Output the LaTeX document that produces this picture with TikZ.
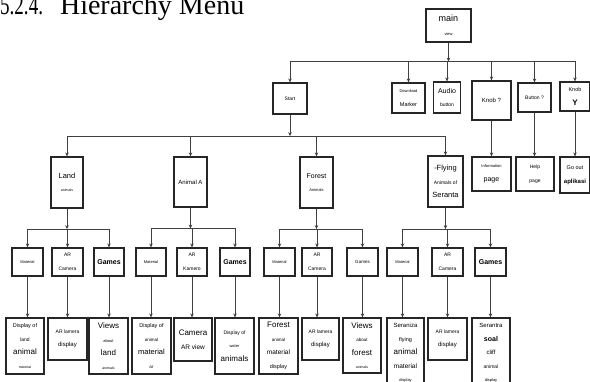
\documentclass[tikz,border=0pt]{standalone}
\usepackage{graphicx}
\usepackage{fontspec}
\setmainfont{Liberation Sans}
\newfontfamily\titlefont{Liberation Serif}
\usetikzlibrary{arrows.meta}
\newcommand\fs[1]{\fontsize{#1}{13.5}\selectfont}

\begin{document}
\begin{tikzpicture}[x=1pt,y=-1pt,
		box/.style={draw=black!85,line width=1.2pt,fill=white,inner sep=1pt,align=center,font=\fs{5}},
		wh/.style 2 args={minimum width=#1pt,minimum height=#2pt},
		link/.style={draw=black!75,line width=1pt,-{Stealth[length=4pt,width=3.5pt]}}]
	\useasboundingbox (0,0) rectangle (590,381);

	\node[anchor=base west,inner sep=0pt,font=\titlefont\fontsize{28}{28}\selectfont] (title) at (0,14) {\scalebox{0.68}[1]{5.2.4.}\hspace{17pt}Hierarchy Menu};

	% top level
	\node[box,wh={45}{33}] (main) at (448.5,25.5) {\fs{9}main\\\fs{4}view};
	\node[box,wh={34}{31}] (start) at (290,98.5) {\fs{5}Start};
	\node[box,wh={33}{30}] (dl) at (408.5,98) {\fs{4}Download\\\fs{5.5}Marker};
	\node[box,wh={27}{31}] (audio) at (447,97.5) {\fs{7}Audio\\\fs{5}button};
	\node[box,wh={39}{39}] (knobq) at (491.5,100.5) {\fs{6}Knob ?};
	\node[box,wh={33}{29}] (buttonq) at (534.5,97.5) {\fs{5}Button ?};
	\node[box,wh={30}{29}] (knoby) at (575,96.5) {\fs{5.5}Knob\\\fs{8}\bfseries Y};

	\node[box,wh={39}{34}] (info) at (491.5,174) {\fs{4}Information\\\fs{7}page};
	\node[box,wh={38}{34}] (help) at (535,174) {\fs{5}Help\\page};
	\node[box,wh={30}{36}] (goout) at (575,175) {\fs{5.5}Go out\\\fs{6}\bfseries aplikasi};

	% areas
	\node[box,wh={32}{51}] (land) at (67,182.5) {\fs{7.5}Land\\\fs{3.5}animals};
	\node[box,wh={33}{50}] (animala) at (190.5,182) {\fs{6}Animal A};
	\node[box,wh={33}{51}] (forest) at (316.5,182.5) {\fs{7}Forest\\\fs{4}Animals};
	\node[box,wh={35}{51}] (flying) at (445.5,181.5) {\fs{7.5}-Flying\\\fs{5}Animals of\\\fs{7.5}Seranta};

	% menus
	\node[box,wh={31}{28}] (l1) at (27.5,262) {\fs{4}Material};
	\node[box,wh={31}{28}] (l2) at (67.5,262) {\fs{5}AR\\Camera};
	\node[box,wh={30}{28}] (l3) at (109,262) {\fs{7}\bfseries Games};
	\node[box,wh={30}{28}] (a1) at (151,262) {\fs{4}Material};
	\node[box,wh={30}{28}] (a2) at (192,262) {\fs{5}AR\\Kamero};
	\node[box,wh={30}{28}] (a3) at (235,262) {\fs{7}\bfseries Games};
	\node[box,wh={31}{28}] (f1) at (279.5,262) {\fs{4}Material};
	\node[box,wh={30}{28}] (f2) at (317,262) {\fs{5}AR\\Camera};
	\node[box,wh={31}{28}] (f3) at (362.5,262) {\fs{4.5}Games};
	\node[box,wh={31}{28}] (s1) at (402.5,262) {\fs{4}Material};
	\node[box,wh={31}{28}] (s2) at (447.5,262) {\fs{5}AR\\Camera};
	\node[box,wh={31}{28}] (s3) at (490.5,262) {\fs{7}\bfseries Games};

	% contents
	\node[box,wh={38}{56}] (l1d) at (25,346) {\fs{5.5}Display of\\land\\\fs{8}animal\\\fs{3.5}material};
	\node[box,wh={39}{42}] (l2d) at (67.5,339) {\fs{5}AR lamera\\\fs{6}display};
	\node[box,wh={39}{56}] (l3d) at (108.5,346) {\fs{8}Views\\\fs{4}about\\\fs{8}land\\\fs{3.5}animals};
	\node[box,wh={39}{56}] (a1d) at (151.5,346) {\fs{5.5}Display of\\\fs{4.5}animal\\\fs{7.5}material\\\fs{4.5}ar};
	\node[box,wh={38}{43}] (a2d) at (193,339.5) {\fs{8}Camera\\\fs{6.5}AR view};
	\node[box,wh={39}{56}] (a3d) at (234.5,346) {\fs{5}Display of\\\fs{4}water\\\fs{8}animals};
	\node[box,wh={39}{56}] (f1d) at (278.5,346) {\fs{8}Forest\\\fs{4.5}animal\\\fs{6.5}material\\\fs{5.5}display};
	\node[box,wh={37}{42}] (f2d) at (320.5,339) {\fs{5}AR lamera\\\fs{6}display};
	\node[box,wh={38}{55}] (f3d) at (362,345.5) {\fs{8}Views\\\fs{4.5}about\\\fs{8}forest\\\fs{3.5}animals};
	\node[box,wh={37}{70}] (s1d) at (405.5,353) {\fs{6}Seraniza\\\fs{5.5}flying\\\fs{8}animal\\\fs{6.5}material\\\fs{4}display};
	\node[box,wh={39}{42}] (s2d) at (447.5,339) {\fs{5}AR lamera\\\fs{6}display};
	\node[box,wh={38}{70}] (s3d) at (491,353) {\fs{6}Serantra\\\fs{7}\bfseries soal\\\fs{6}cliff\\animal\\\fs{4}display};

	% connectors
	\draw[link] (main.south) -- ++(0,19) coordinate (mbus);
	\foreach \c in {start,dl,audio,knobq,buttonq,knoby}
		\draw[link] (mbus) -| (\c.north);
	\draw[link] (knobq.south) -- (knobq.south |- info.north);
	\draw[link] (buttonq.south) -- (buttonq.south |- help.north);
	\draw[link] (knoby.south) -- (knoby.south |- goout.north);

	\draw[link] (start.south) -- ++(0,21.5) coordinate (sbus);
	\foreach \c in {land,animala,forest,flying}
		\draw[link] (sbus) -| (\c.north);

	\draw[link] (land.south) -- ++(0,20.5) coordinate (lbus);
	\draw[link] (animala.south) -- ++(0,21) coordinate (abus);
	\draw[link] (forest.south) -- ++(0,20.5) coordinate (fbus);
	\draw[link] (flying.south) -- ++(0,21.5) coordinate (sebus);
	\foreach \b/\g in {lbus/l,abus/a,fbus/f,sebus/s}{
		\foreach \i in {1,2,3}{
			\draw[link] (\b) -| (\g\i.north);
			\draw[link] (\g\i.south) -- (\g\i.south |- \g\i d.north);
		}
	}
\end{tikzpicture}
\end{document}
